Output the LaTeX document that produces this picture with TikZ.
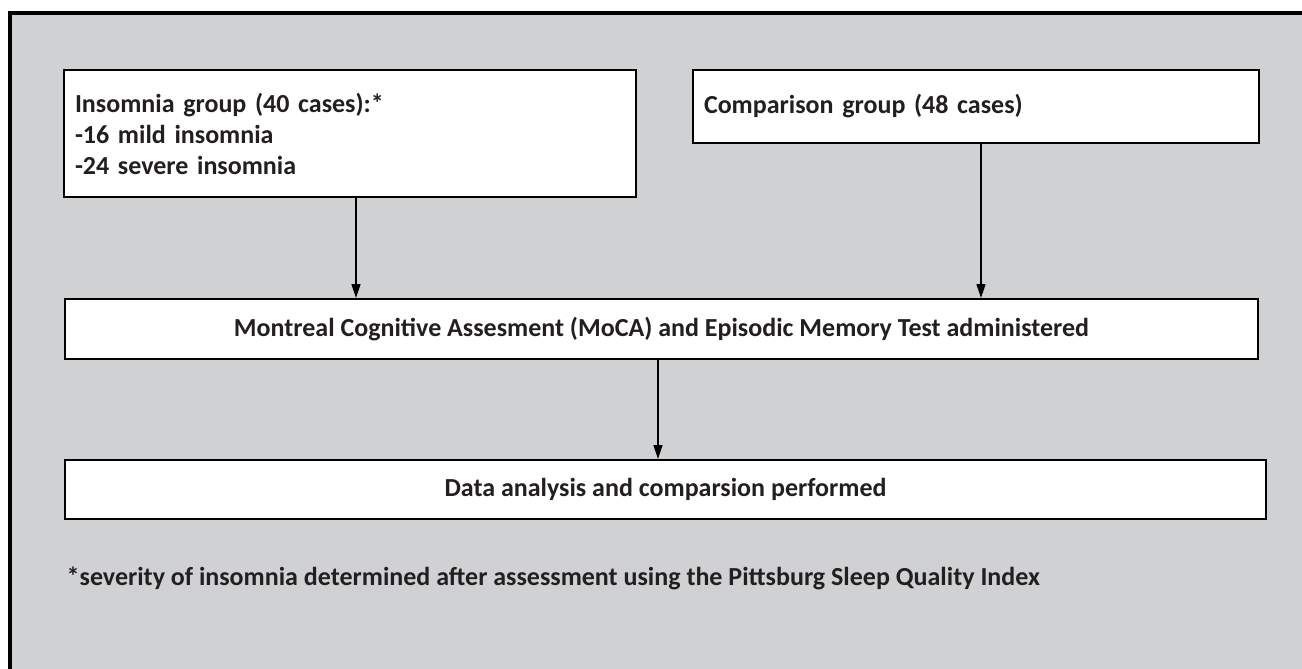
\documentclass[tikz,border=0pt]{standalone}
\usepackage{fontspec}
\setmainfont{Carlito}
\usepackage{tikz}
\usetikzlibrary{arrows.meta}
\usetikzlibrary{positioning}

\definecolor{panelgray}{RGB}{208,209,211}
\definecolor{inkgray}{RGB}{35,31,32}

\begin{document}
\begin{tikzpicture}[x=1pt, y=-1pt,
    >={Triangle[length=14pt,width=9pt]}, line width=1.4pt,
    font=\fontsize{26}{31}\selectfont\bfseries,
    stage/.style={draw=black, line width=2pt, fill=white, text=inkgray,
        rectangle, inner sep=0pt},
    group/.style={stage, inner xsep=11pt, align=left}]

    % Frame
    \useasboundingbox (0,0) rectangle (1302,669);
    \clip (0,0) rectangle (1302,669);
    \draw[line width=4pt, fill=panelgray] (10,13) rectangle (1330,700);

    % Nodes

    \node[group, minimum width=572pt, minimum height=127pt,
          text width=550pt]               (insom)   at (350,133.5)
        {Insomnia group (40 cases):*\\-16 mild insomnia\\-24 severe insomnia}; %
    \node[group, minimum width=566pt, minimum height=73pt,
          text width=544pt]               (compar)  at (976,106.5)
        {Comparison group (48 cases)}; %

    \node[stage, minimum width=1193pt, minimum height=60pt] (moca) at (661.5,329)
        {Montreal Cognitive Assesment (MoCA) and Episodic Memory Test administered}; %
    \node[stage, minimum width=1201pt, minimum height=59pt] (data) at (665.5,489.5)
        {Data analysis and comparsion performed}; %

    \node[anchor=west, inner sep=0pt, text=inkgray] (note) at (66,578)
        {*severity of insomnia determined after assessment using the Pittsburg Sleep Quality Index}; %

    % Arrows
    \draw[->] ([xshift=6pt]insom.south) -- ([xshift=6pt]insom.south |- moca.north);
    \draw[->] ([xshift=5pt]compar.south) -- ([xshift=5pt]compar.south |- moca.north);
    \draw[->] ([xshift=-3.5pt]moca.south) -- ([xshift=-3.5pt]moca.south |- data.north);

\end{tikzpicture}
\end{document}
